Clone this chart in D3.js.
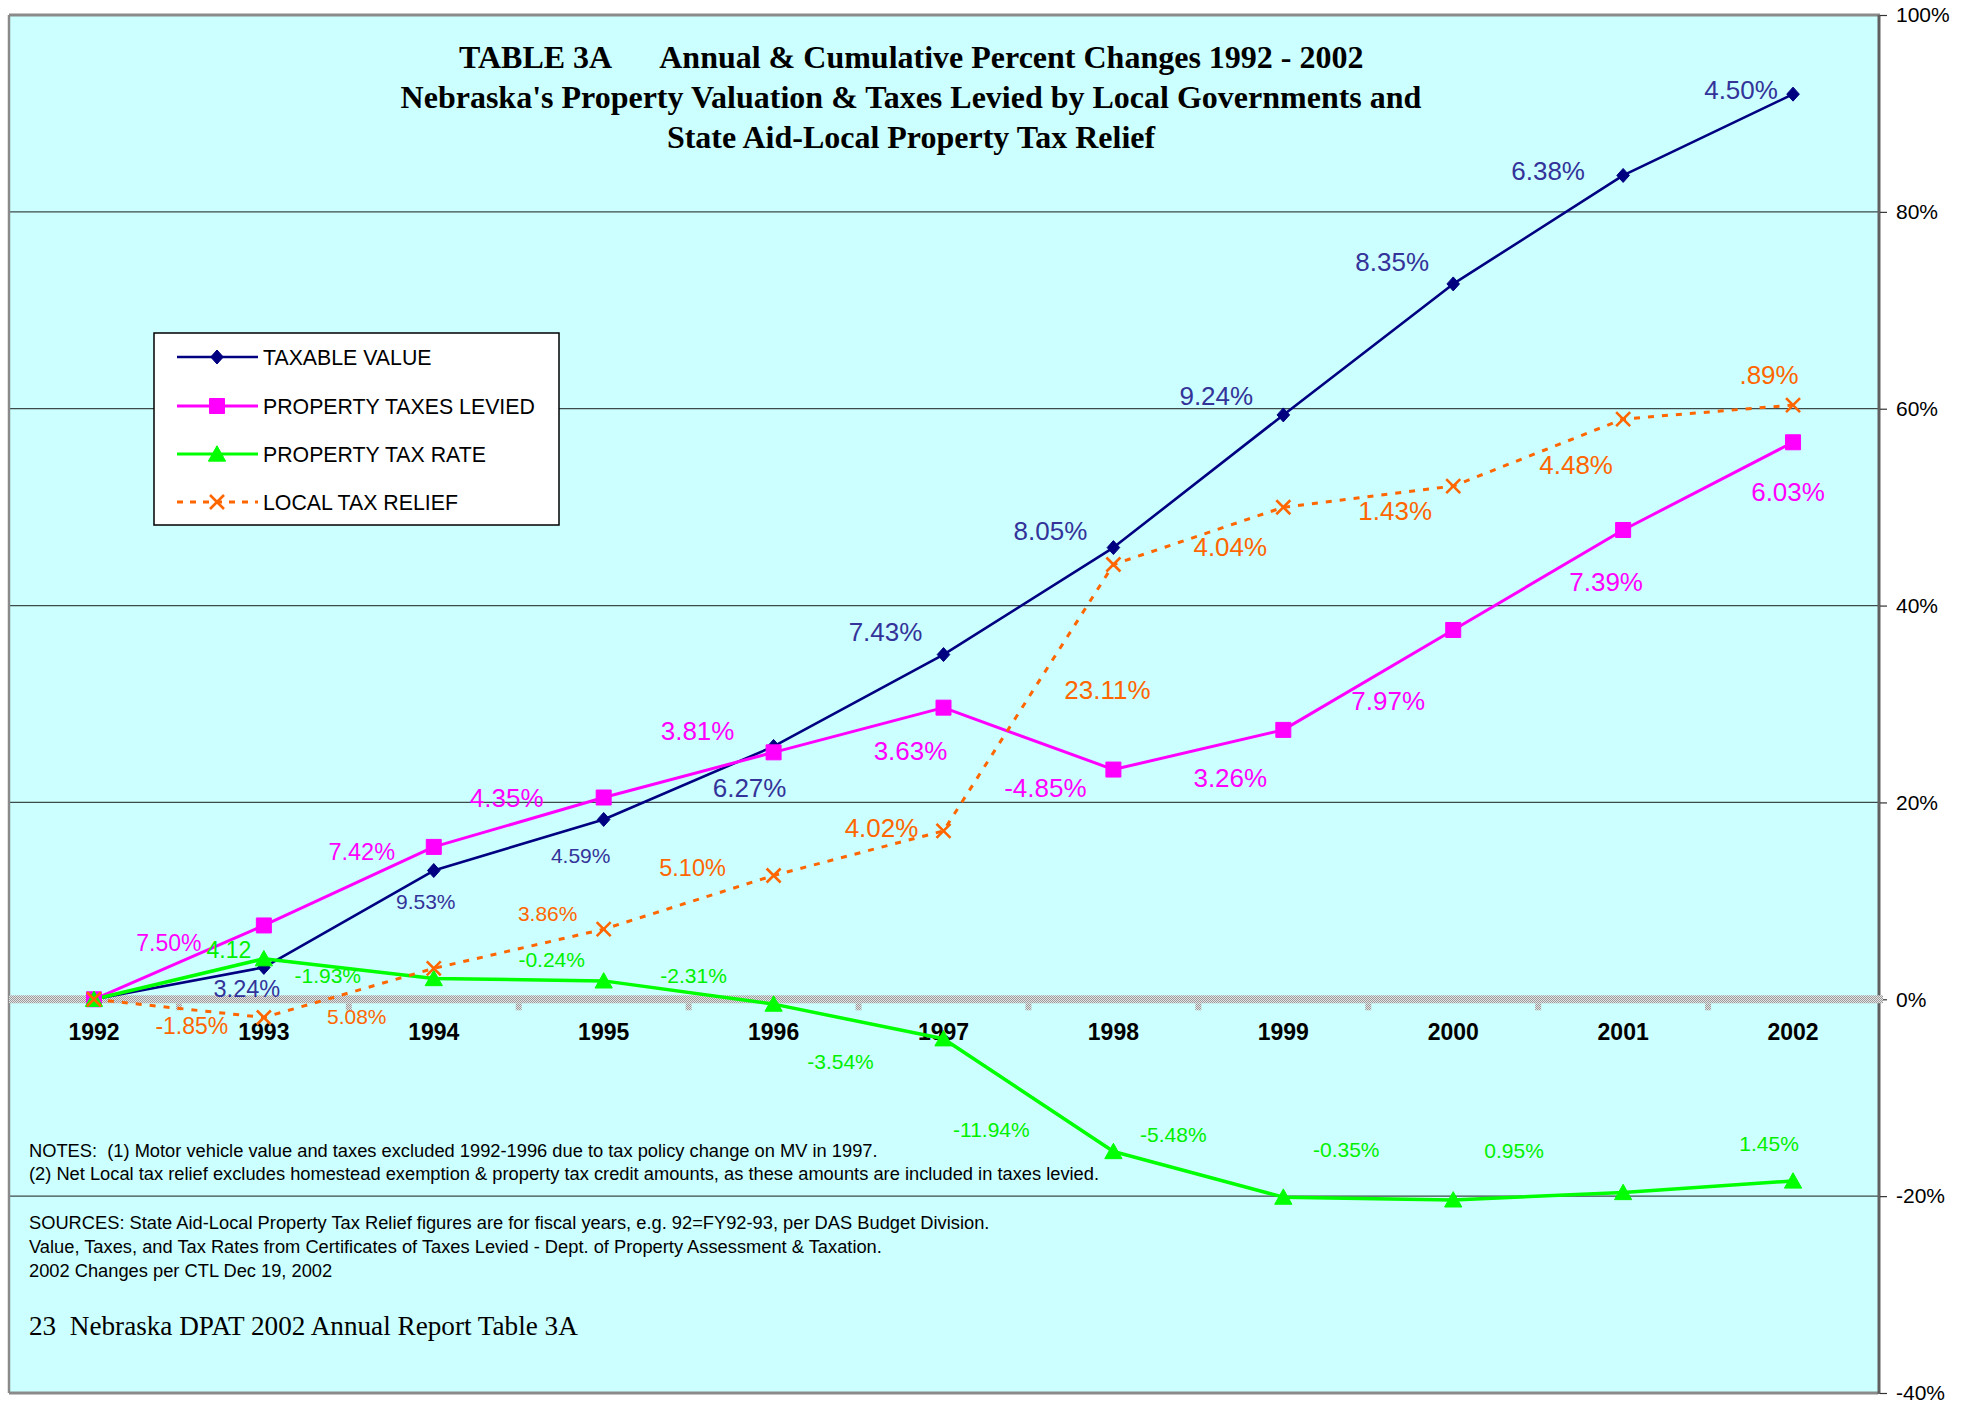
<!DOCTYPE html>
<html>
<head>
<meta charset="utf-8">
<script src="https://cdn.jsdelivr.net/npm/d3@7"></script>
<style>
  body { margin: 0; background: #ffffff; }
  svg { display: block; font-family: "Liberation Sans", Arial, sans-serif; }
</style>
</head>
<body>
<svg id="chart" width="1965" height="1405"></svg>
<script>
// ---------------- DATA ----------------
const years = ["1992","1993","1994","1995","1996","1997","1998","1999","2000","2001","2002"];

// cumulative % change since 1992
const taxableValue = [0, 3.24, 13.08, 18.27, 25.69, 35.02, 45.89, 59.37, 72.68, 83.70, 91.96];
const taxableLabels = [null, "3.24%", "9.53%", "4.59%", "6.27%", "7.43%", "8.05%", "9.24%", "8.35%", "6.38%", "4.50%"];

const taxesLevied = [0, 7.50, 15.48, 20.50, 25.09, 29.63, 23.34, 27.37, 37.52, 47.68, 56.59];
const taxesLabels = [null, "7.50%", "7.42%", "4.35%", "3.81%", "3.63%", "-4.85%", "3.26%", "7.97%", "7.39%", "6.03%"];

const taxRate = [0, 4.12, 2.11, 1.87, -0.49, -4.01, -15.47, -20.10, -20.38, -19.63, -18.46];
const rateLabels = [null, "4.12", "-1.93%", "-0.24%", "-2.31%", "-3.54%", "-11.94%", "-5.48%", "-0.35%", "0.95%", "1.45%"];

const taxRelief = [0, -1.85, 3.14, 7.12, 12.58, 17.11, 44.17, 49.99, 52.14, 58.95, 60.37];
const reliefLabels = [null, "-1.85%", "5.08%", "3.86%", "5.10%", "4.02%", "23.11%", "4.04%", "1.43%", "4.48%", ".89%"];

const yTicks = [-40, -20, 0, 20, 40, 60, 80, 100];

const seriesNames = ["TAXABLE VALUE", "PROPERTY TAXES LEVIED", "PROPERTY TAX RATE", "LOCAL TAX RELIEF"];

const titleLine1a = "TABLE 3A";
const titleLine1b = "Annual & Cumulative Percent Changes 1992 - 2002";
const titleLine2 = "Nebraska's Property Valuation & Taxes Levied by Local Governments and";
const titleLine3 = "State Aid-Local Property Tax Relief";

const notes = [
  "NOTES:  (1) Motor vehicle value and taxes excluded 1992-1996 due to tax policy change on MV in 1997.",
  "(2) Net Local tax relief excludes homestead exemption & property tax credit amounts, as these amounts are included in taxes levied."
];
const sources = [
  "SOURCES: State Aid-Local Property Tax Relief figures are for fiscal years, e.g. 92=FY92-93, per DAS Budget Division.",
  "Value, Taxes, and Tax Rates from Certificates of Taxes Levied - Dept. of Property Assessment & Taxation.",
  "2002 Changes per CTL Dec 19, 2002"
];
const footer = "23  Nebraska DPAT 2002 Annual Report Table 3A";

// ---------------- LABEL LAYOUT (offset from point, font size) ----------------
const taxableLabelLayout = [null, [-17,21,23.5], [-8,31,21], [-23,36,21], [-24,41,26], [-58,-23,26], [-63,-17,26], [-67,-19,26], [-61,-22,26], [-75,-5,26], [-52,-4,26]];
const taxesLabelLayout   = [null, [-95,17,23], [-72,5,23.5], [-97,0,26], [-76,-22,26], [-33,43,26], [-68,18,26], [-53,48,26], [-65,71,26], [-17,52,26], [-5,49,26]];
const rateLabelLayout    = [null, [-35,-9,23], [-106,-3,21], [-52,-21,21], [-80,-29,21], [-103,23,21], [-122,-22,21], [-110,-63,21], [-107,-50,21], [-109,-42,21], [-24,-38,21]];
const reliefLabelLayout  = [null, [-72,8,23], [-77,48,21], [-56,-16,21], [-81,-8,23.5], [-62,-3,26], [-6,125,26], [-53,39,26], [-58,25,26], [-47,46,26], [-24,-30,26]];

// ---------------- GEOMETRY ----------------
const plot = { left: 9, right: 1878, top: 15, bottom: 1393 };
const SERIF = "'Liberation Serif', 'Times New Roman', serif";
const SANS = "'Liberation Sans', Arial, sans-serif";

const svg = d3.select("#chart");

const x = d3.scaleBand().domain(years).range([plot.left, plot.right]).padding(0);
const cx = d => x(d) + x.bandwidth() / 2;
const y = d3.scaleLinear().domain([-40, 100]).range([plot.bottom, plot.top]);

// hatch pattern for zero axis
const defs = svg.append("defs");
const pat = defs.append("pattern").attr("id", "hatch").attr("width", 2).attr("height", 2)
  .attr("patternUnits", "userSpaceOnUse");
pat.append("rect").attr("width", 2).attr("height", 2).attr("fill", "#e4e4e4");
pat.append("rect").attr("width", 1).attr("height", 1).attr("fill", "#9a9a9a");
pat.append("rect").attr("x", 1).attr("y", 1).attr("width", 1).attr("height", 1).attr("fill", "#9a9a9a");

// background
svg.append("rect").attr("x", plot.left).attr("y", plot.top)
  .attr("width", plot.right - plot.left).attr("height", plot.bottom - plot.top)
  .attr("fill", "#ccffff");

// gridlines
svg.append("g").selectAll("line")
  .data(yTicks.filter(v => v !== 0 && v !== -40 && v !== 100))
  .join("line")
  .attr("x1", plot.left).attr("x2", plot.right)
  .attr("y1", d => y(d)).attr("y2", d => y(d))
  .attr("stroke", "#3d4a4a").attr("stroke-width", 1.3);

// borders
svg.append("line").attr("x1", plot.left).attr("x2", plot.right + 2).attr("y1", plot.top).attr("y2", plot.top)
  .attr("stroke", "#8a8a8a").attr("stroke-width", 3);
svg.append("line").attr("x1", plot.left).attr("x2", plot.right).attr("y1", plot.bottom).attr("y2", plot.bottom)
  .attr("stroke", "#8a8a8a").attr("stroke-width", 3);
svg.append("line").attr("x1", plot.left).attr("x2", plot.left).attr("y1", plot.top).attr("y2", plot.bottom)
  .attr("stroke", "#8a8a8a").attr("stroke-width", 2.5);
svg.append("line").attr("x1", plot.right + 1).attr("x2", plot.right + 1).attr("y1", plot.top).attr("y2", plot.bottom + 1)
  .attr("stroke", "#606060").attr("stroke-width", 3);

// right axis
const yAxis = d3.axisRight(y).tickValues(yTicks).tickFormat(d => d + "%").tickSize(7).tickPadding(9);
const yg = svg.append("g").attr("transform", `translate(${plot.right + 2},0)`).call(yAxis);
yg.select(".domain").remove();
yg.selectAll(".tick line").attr("stroke", "#333").attr("stroke-width", 1.2);
yg.selectAll(".tick text").attr("font-size", 21).attr("fill", "#000").style("font-family", SANS);

// zero axis (hatched band) + category ticks
const y0 = y(0);
svg.append("rect").attr("x", plot.left).attr("y", y0 - 4).attr("width", plot.right - plot.left + 5).attr("height", 8)
  .attr("fill", "url(#hatch)");
const boundaries = years.map(d => x(d)).slice(1);
svg.append("g").selectAll("rect").data(boundaries).join("rect")
  .attr("x", d => d - 3).attr("y", y0 + 4).attr("width", 6).attr("height", 7)
  .attr("fill", "url(#hatch)");

// x axis labels
const xAxis = d3.axisBottom(x).tickSize(0).tickPadding(24);
const xg = svg.append("g").attr("transform", `translate(0,${y0})`).call(xAxis);
xg.select(".domain").remove();
xg.selectAll(".tick text").attr("font-size", 23).attr("font-weight", "bold").attr("fill", "#000")
  .style("font-family", SANS);

// ---------------- SERIES ----------------
const shapes = {
  diamond: (s) => `M0,${-s}L${s*0.9},0L0,${s}L${-s*0.9},0Z`,
  square: (s) => `M${-s},${-s}H${s}V${s}H${-s}Z`,
  triangle: (s) => `M0,${-s*1.1}L${s*1.15},${s*0.95}L${-s*1.15},${s*0.95}Z`,
  cross: (s) => `M${-s},${-s}L${s},${s}M${s},${-s}L${-s},${s}`
};

const series = [
  { values: taxableValue, labels: taxableLabels, layout: taxableLabelLayout, color: "#000080", labelColor: "#333399",
    width: 2.6, dash: null, shape: "diamond", size: 7, fill: true },
  { values: taxesLevied, labels: taxesLabels, layout: taxesLabelLayout, color: "#ff00ff", labelColor: "#ff00ff",
    width: 3, dash: null, shape: "square", size: 7.5, fill: true },
  { values: taxRate, labels: rateLabels, layout: rateLabelLayout, color: "#00ff00", labelColor: "#00f000",
    width: 3.5, dash: null, shape: "triangle", size: 7.5, fill: true },
  { values: taxRelief, labels: reliefLabels, layout: reliefLabelLayout, color: "#ff6600", labelColor: "#ff6600",
    width: 3, dash: "6,8", shape: "cross", size: 7, fill: false }
];

const line = d3.line().x((d, i) => cx(years[i])).y(d => y(d));

// lines
series.forEach(s => {
  svg.append("path").datum(s.values)
    .attr("d", line)
    .attr("fill", "none")
    .attr("stroke", s.color)
    .attr("stroke-width", s.width)
    .attr("stroke-dasharray", s.dash)
    .attr("stroke-linejoin", "round");
});

// markers
series.forEach(s => {
  svg.append("g").selectAll("path").data(s.values).join("path")
    .attr("transform", (d, i) => `translate(${cx(years[i])},${y(d)})`)
    .attr("d", shapes[s.shape](s.size))
    .attr("fill", s.fill ? s.color : "none")
    .attr("stroke", s.color)
    .attr("stroke-width", s.fill ? 1 : 2.6);
});

// data labels
series.forEach(s => {
  const items = s.values.map((v, i) => ({ v, i, label: s.labels[i], lay: s.layout[i] })).filter(d => d.label);
  svg.append("g").selectAll("text").data(items).join("text")
    .attr("x", d => cx(years[d.i]) + d.lay[0])
    .attr("y", d => y(d.v) + d.lay[1] + d.lay[2] * 0.36)
    .attr("text-anchor", "middle")
    .attr("font-size", d => d.lay[2])
    .attr("fill", s.labelColor)
    .text(d => d.label);
});

// ---------------- TITLE ----------------
const t1 = svg.append("text").attr("x", 459).attr("y", 68)
  .style("font-family", SERIF).attr("font-weight", "bold")
  .attr("font-size", 32).attr("fill", "#000");
t1.append("tspan").text(titleLine1a);
t1.append("tspan").attr("dx", 47).text(titleLine1b);
[titleLine2, titleLine3].forEach((t, k) => {
  svg.append("text").attr("x", 911).attr("y", 108 + 40 * k).attr("text-anchor", "middle")
    .style("font-family", SERIF).attr("font-weight", "bold")
    .attr("font-size", 32).attr("fill", "#000").text(t);
});

// ---------------- LEGEND ----------------
const lg = svg.append("g");
lg.append("rect").attr("x", 154).attr("y", 333).attr("width", 405).attr("height", 192)
  .attr("fill", "#ffffff").attr("stroke", "#000").attr("stroke-width", 1.5);
const legendRows = [357, 406, 454, 502];
series.forEach((s, k) => {
  const ry = legendRows[k];
  lg.append("line").attr("x1", 177).attr("x2", 258).attr("y1", ry).attr("y2", ry)
    .attr("stroke", s.color).attr("stroke-width", s.width === 3.5 ? 3 : s.width)
    .attr("stroke-dasharray", s.dash ? "6,7" : null);
  lg.append("path").attr("transform", `translate(217,${ry})`)
    .attr("d", shapes[s.shape](s.size))
    .attr("fill", s.fill ? s.color : "none").attr("stroke", s.color)
    .attr("stroke-width", s.fill ? 1 : 2.6);
  lg.append("text").attr("x", 263).attr("y", ry + 7.6).attr("font-size", 21.3).attr("fill", "#000")
    .text(seriesNames[k]);
});

// ---------------- NOTES ----------------
const noteY = [1157, 1180];
notes.forEach((t, k) => {
  svg.append("text").attr("x", 29).attr("y", noteY[k]).attr("font-size", 18.3).attr("fill", "#000")
    .style("white-space", "pre").text(t);
});
const srcY = [1229, 1253, 1277];
sources.forEach((t, k) => {
  svg.append("text").attr("x", 29).attr("y", srcY[k]).attr("font-size", 18.3).attr("fill", "#000")
    .style("white-space", "pre").text(t);
});
svg.append("text").attr("x", 29).attr("y", 1335)
  .style("font-family", SERIF)
  .attr("font-size", 27.2).attr("fill", "#000").style("white-space", "pre").text(footer);
</script>
</body>
</html>
